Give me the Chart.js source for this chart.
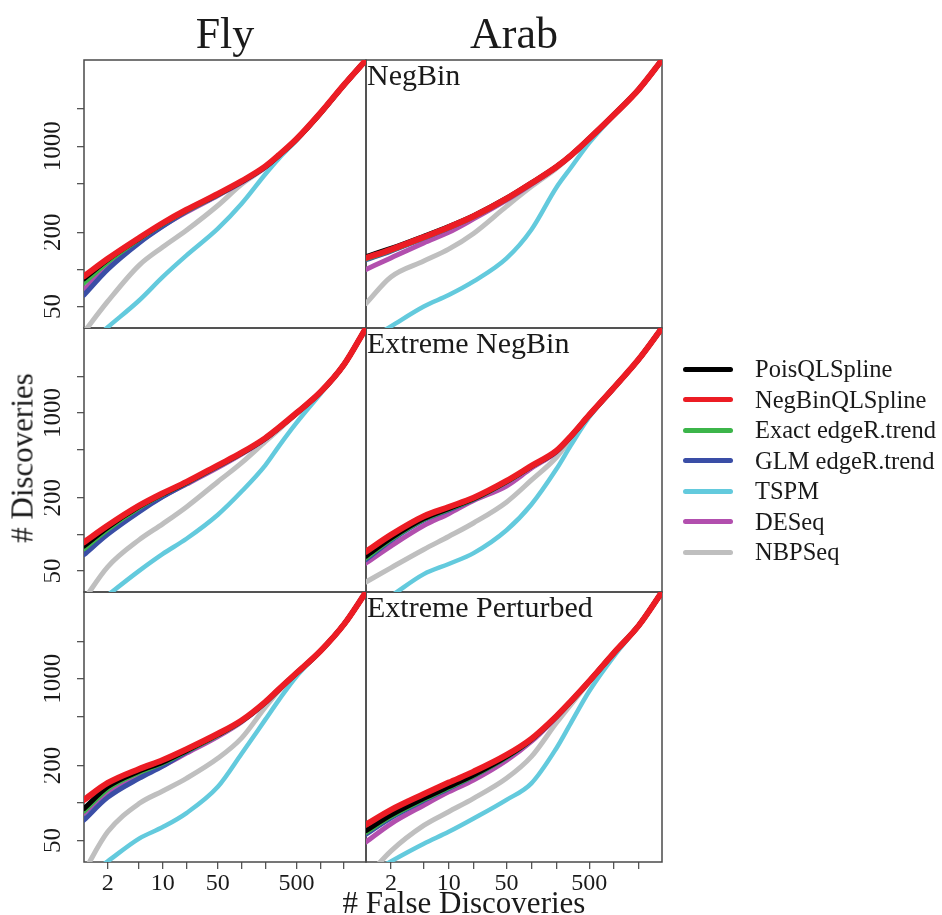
<!DOCTYPE html>
<html>
<head>
<meta charset="utf-8">
<title>False discoveries vs discoveries</title>
<script src="https://cdn.jsdelivr.net/npm/chart.js@4.4.1/dist/chart.umd.min.js"></script>
<style>
  html, body { margin: 0; padding: 0; background: #fff; }
  #wrap {
    position: relative; width: 942px; height: 915px; overflow: hidden;
    font-family: "Liberation Serif", "DejaVu Serif", serif; color: #1a1a1a;
  }
  #plot { position: absolute; left: 0; top: 0; }
  .txt { position: absolute; white-space: nowrap; line-height: 1; }
  .col-title { font-size: 44px; transform: translateX(-50%); }
  .panel-label { font-size: 30px; }
  .x-title { font-size: 31px; transform: translateX(-50%); }
  .y-title { font-size: 31px; transform: translate(-50%, -50%) rotate(-90deg); }
  #legend { position: absolute; left: 683px; top: 354px; }
  .leg-row { display: flex; align-items: center; height: 30.5px; }
  .leg-line { width: 50px; height: 5px; border-radius: 3px; margin-right: 22px; }
  .leg-text { font-size: 24.5px; line-height: 1; }
</style>
</head>
<body>
<div id="wrap">
  <canvas id="plot" width="700" height="915"></canvas>
  <div id="legend"></div>
</div>
<script>
// x positions (# false discoveries) where the curves were read
const FDR = [1, 2, 5, 10, 20, 50, 100, 200, 300, 500, 1000, 2000, 3800];

const METHODS = ["PoisQLSpline", "NegBinQLSpline", "Exact edgeR.trend", "GLM edgeR.trend", "TSPM", "DESeq", "NBPSeq"];
const COLS = ["Fly", "Arab"];
const ROWS = ["NegBin", "Extreme NegBin", "Extreme Perturbed"];

const X_MIN = 1, X_MAX = 3800;
const Y_MIN = 33.5, Y_MAX = 5000;
const X_TICKS = [2, 5, 10, 20, 50, 100, 200, 500, 1000, 2000];
const X_LABELS = [2, 10, 50, 500];
const Y_TICKS = [50, 100, 200, 500, 1000, 2000];
const Y_LABELS = [50, 200, 1000];

// # discoveries, one row per method (same order as METHODS)
const FLY_NEGBIN = [
  [84, 120, 178, 236, 303, 407, 516, 680, 846, 1140, 1850, 3140, 5000],
  [88, 122, 180, 238, 305, 410, 520, 685, 850, 1146, 1858, 3150, 5000],
  [78, 115, 176, 234, 300, 405, 515, 680, 845, 1140, 1850, 3140, 5000],
  [62, 100, 164, 224, 296, 402, 512, 678, 843, 1138, 1848, 3140, 5000],
  [23, 34, 56, 87, 130, 214, 341, 592, 800, 1120, 1848, 3140, 5000],
  [68, 108, 168, 226, 292, 398, 508, 675, 842, 1138, 1848, 3140, 5000],
  [31, 55, 108, 152, 208, 330, 490, 670, 838, 1135, 1845, 3140, 5000]
];
const ARAB_NEGBIN = [
  [127, 148, 186, 223, 273, 378, 503, 681, 843, 1153, 1802, 2900, 5000],
  [124, 145, 183, 220, 270, 375, 500, 678, 840, 1150, 1800, 2900, 5000],
  [122, 143, 181, 218, 268, 373, 498, 676, 838, 1148, 1800, 2900, 5000],
  [120, 141, 180, 217, 267, 372, 497, 676, 838, 1148, 1800, 2900, 5000],
  [26, 34.5, 50, 62, 80, 123, 210, 460, 668, 1064, 1790, 2900, 5000],
  [100, 124, 164, 200, 257, 365, 490, 672, 836, 1146, 1800, 2900, 5000],
  [53, 87, 117, 146, 196, 325, 470, 660, 830, 1144, 1798, 2900, 5000]
];
const FLY_EXTNB = [
  [80, 114, 169, 215, 267, 366, 466, 616, 756, 996, 1476, 2500, 5000],
  [86, 118, 172, 218, 270, 370, 470, 620, 760, 1000, 1480, 2500, 5000],
  [76, 110, 166, 213, 266, 365, 465, 616, 756, 996, 1476, 2500, 5000],
  [68, 100, 153, 204, 262, 362, 464, 614, 755, 995, 1476, 2500, 5000],
  [22, 31.5, 50, 69, 92, 145, 225, 370, 535, 830, 1430, 2480, 5000],
  [72, 105, 158, 206, 259, 354, 457, 610, 752, 994, 1476, 2500, 5000],
  [29, 54, 90, 122, 168, 271, 388, 580, 733, 985, 1470, 2500, 5000]
];
const ARAB_EXTNB = [
  [66, 93, 135, 163, 196, 272, 363, 483, 640, 957, 1618, 2780, 5000],
  [72, 99, 141, 168, 200, 275, 366, 486, 643, 960, 1620, 2780, 5000],
  [64, 91, 133, 161, 195, 271, 362, 482, 639, 956, 1618, 2780, 5000],
  [62, 89, 131, 159, 194, 270, 361, 481, 638, 955, 1618, 2780, 5000],
  [23, 31, 47, 57, 70, 108, 176, 343, 540, 920, 1600, 2770, 5000],
  [58, 80, 118, 148, 190, 250, 350, 476, 636, 954, 1618, 2780, 5000],
  [40.5, 53, 75, 96, 124, 184, 279, 429, 612, 950, 1615, 2780, 5000]
];
const FLY_EXTPERT = [
  [90, 135, 180, 213, 264, 355, 457, 646, 825, 1112, 1670, 2750, 5000],
  [106, 145, 188, 222, 271, 361, 462, 651, 829, 1116, 1672, 2750, 5000],
  [86, 130, 176, 210, 262, 353, 456, 645, 824, 1111, 1670, 2750, 5000],
  [73, 111, 158, 198, 258, 352, 455, 645, 824, 1111, 1670, 2750, 5000],
  [24.5, 33.9, 51.7, 64, 83, 135, 249, 469, 680, 1049, 1665, 2750, 5000],
  [83, 123, 166, 200, 252, 343, 450, 640, 822, 1110, 1670, 2750, 5000],
  [28, 58.6, 99, 125, 158, 229, 333, 590, 805, 1100, 1665, 2750, 5000]
];
const ARAB_EXTPERT = [
  [60, 80, 109, 135, 168, 236, 325, 496, 657, 955, 1620, 2700, 5000],
  [67, 88, 118, 146, 179, 244, 329, 499, 660, 957, 1622, 2700, 5000],
  [58, 78, 107, 133, 166, 234, 324, 495, 656, 954, 1620, 2700, 5000],
  [56, 76, 105, 131, 165, 233, 323, 495, 656, 954, 1620, 2700, 5000],
  [26, 33.9, 47, 58.6, 75, 106, 144, 275, 440, 794, 1524, 2700, 5000],
  [48.6, 68, 96, 123, 153, 220, 313, 490, 652, 952, 1620, 2700, 5000],
  [25, 41, 66, 85, 109, 158, 236, 440, 620, 940, 1615, 2700, 5000]
];

const PANELS = [
  [FLY_NEGBIN, ARAB_NEGBIN],
  [FLY_EXTNB, ARAB_EXTNB],
  [FLY_EXTPERT, ARAB_EXTPERT]
];

const COLORS = ["#000000", "#ec1c24", "#3cb54a", "#3a4ea6", "#63cadd", "#b24fae", "#bfbfbf"];
const WIDTHS = [5, 6, 5, 5, 4.5, 5, 5];
const DRAW_ORDER = [1, 0, 2, 3, 5, 4, 6]; // lower = drawn on top

const FONT = "'Liberation Serif', 'DejaVu Serif', serif";

const datasets = [];
PANELS.forEach((row, r) => {
  row.forEach((series, c) => {
    series.forEach((vals, m) => {
      datasets.push({
        label: METHODS[m] + " - " + COLS[c] + " - " + ROWS[r],
        data: FDR.map((x, i) => ({ x: x, y: vals[i] })),
        xAxisID: "x" + c,
        yAxisID: "y" + r,
        borderColor: COLORS[m],
        backgroundColor: COLORS[m],
        borderWidth: WIDTHS[m],
        pointRadius: 0,
        fill: false,
        cubicInterpolationMode: "monotone",
        borderCapStyle: "round",
        borderJoinStyle: "round",
        order: DRAW_ORDER[m]
      });
    });
  });
});

const tickGrid = { drawOnChartArea: false, drawTicks: true, tickLength: 7, color: "#555", lineWidth: 1.3 };

function xScale(c) {
  return {
    type: "logarithmic",
    position: "bottom",
    stack: "cols",
    stackWeight: c === 0 ? 282 : 296,
    weight: c,
    min: X_MIN,
    max: X_MAX,
    afterBuildTicks: s => { s.ticks = X_TICKS.map(v => ({ value: v })); },
    afterFit: s => { s.height = 30; },
    ticks: {
      autoSkip: false, minRotation: 0, maxRotation: 0, padding: 0, color: "#1a1a1a",
      font: { family: FONT, size: 24 },
      callback: v => X_LABELS.includes(v) ? String(v) : ""
    },
    grid: tickGrid,
    border: { display: false }
  };
}

function yScale(r) {
  return {
    type: "logarithmic",
    position: "left",
    stack: "rows",
    stackWeight: [268, 264, 270][r],
    weight: 2 - r,
    min: Y_MIN,
    max: Y_MAX,
    afterBuildTicks: s => { s.ticks = Y_TICKS.map(v => ({ value: v })); },
    afterFit: s => { s.width = 40; },
    ticks: {
      autoSkip: false, minRotation: 90, maxRotation: 90, crossAlign: "center", padding: -1,
      color: "#1a1a1a", font: { family: FONT, size: 25 },
      callback: v => Y_LABELS.includes(v) ? String(v) : ""
    },
    grid: tickGrid,
    border: { display: false }
  };
}

const panelFrames = {
  id: "panelFrames",
  beforeDatasetsDraw(chart) {
    const ctx = chart.ctx;
    ctx.save();
    ctx.strokeStyle = "#4a4a4a";
    ctx.lineWidth = 1.5;
    ["x0", "x1"].forEach(xi => {
      ["y0", "y1", "y2"].forEach(yi => {
        const xs = chart.scales[xi], ys = chart.scales[yi];
        ctx.strokeRect(xs.left, ys.top, xs.right - xs.left, ys.bottom - ys.top);
      });
    });
    ctx.restore();
  }
};

const chart = new Chart(document.getElementById("plot"), {
  type: "line",
  data: { datasets },
  options: {
    responsive: false,
    animation: false,
    events: [],
    layout: { padding: { left: 44, top: 60, right: 38, bottom: 23 } },
    plugins: { legend: { display: false }, tooltip: { enabled: false } },
    scales: {
      x0: xScale(0), x1: xScale(1),
      y0: yScale(0), y1: yScale(1), y2: yScale(2)
    }
  },
  plugins: [panelFrames]
});

// text around the panels
const wrap = document.getElementById("wrap");
function addText(text, cls, left, top) {
  const d = document.createElement("div");
  d.className = "txt " + cls;
  d.textContent = text;
  d.style.left = left + "px";
  d.style.top = top + "px";
  wrap.appendChild(d);
}

const sx = [chart.scales.x0, chart.scales.x1];
const sy = [chart.scales.y0, chart.scales.y1, chart.scales.y2];
COLS.forEach((name, c) => addText(name, "col-title", (sx[c].left + sx[c].right) / 2, 12));
ROWS.forEach((name, r) => addText(name, "panel-label", sx[1].left + 1, sy[r].top));
addText("# False Discoveries", "x-title", 464, 887);
addText("# Discoveries", "y-title", 21.5, 458);

// legend
const legendEl = document.getElementById("legend");
METHODS.forEach((name, m) => {
  const row = document.createElement("div");
  row.className = "leg-row";
  row.innerHTML = `<div class="leg-line" style="background:${COLORS[m]}"></div><div class="leg-text">${name}</div>`;
  legendEl.appendChild(row);
});
</script>
</body>
</html>
